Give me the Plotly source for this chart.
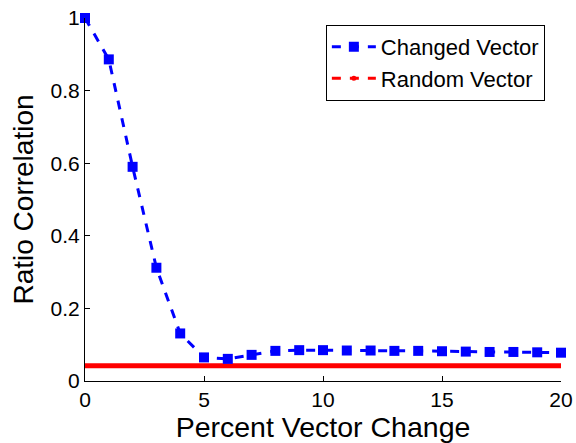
import plotly.graph_objects as go

x_vals = list(range(0, 21))
changed_vector = [1.0, 0.886, 0.590, 0.312, 0.131, 0.065, 0.061, 0.072, 0.083, 0.085, 0.085,
                  0.084, 0.084, 0.083, 0.083, 0.082, 0.081, 0.080, 0.080, 0.079, 0.078]
random_vector = [0.042] * 21

FONT = "Liberation Sans, Arial, sans-serif"

fig = go.Figure()
fig.add_trace(go.Scatter(
    x=x_vals, y=random_vector, mode="lines", name="Random Vector",
    line=dict(color="#ff0000", width=5), showlegend=False, cliponaxis=False))
fig.add_trace(go.Scatter(
    x=x_vals, y=changed_vector, mode="lines+markers", name="Changed Vector",
    line=dict(color="#0000ff", width=3, dash="dash"),
    marker=dict(symbol="square", size=10, color="#0000ff"), cliponaxis=False))
fig.add_trace(go.Scatter(
    x=[None], y=[None], mode="lines+markers", name="Random Vector",
    line=dict(color="#ff0000", width=3, dash="dash"),
    marker=dict(symbol="circle", size=5, color="#ff0000")))

fig.update_layout(
    width=576, height=443,
    margin=dict(l=85, r=15, t=18, b=62, autoexpand=False),
    paper_bgcolor="white", plot_bgcolor="white",
    font=dict(family=FONT, size=21, color="black"),
    legend=dict(x=0.506, y=0.981, xanchor="left", yanchor="top",
                bordercolor="black", borderwidth=1, bgcolor="white",
                font=dict(size=22), tracegroupgap=0, itemwidth=44),
    xaxis=dict(range=[0, 20], tickvals=[0, 5, 10, 15, 20], ticks="inside", ticklen=5,
               tickcolor="black", showline=True, linecolor="black", linewidth=1,
               showgrid=False, zeroline=False, automargin=False,
               title=dict(text="Percent Vector Change", font=dict(size=28.5), standoff=0)),
    yaxis=dict(range=[0, 1], tickvals=[0, 0.2, 0.4, 0.6, 0.8, 1],
               ticktext=["0", "0.2", "0.4", "0.6", "0.8", "1"],
               ticks="inside", ticklen=5, tickcolor="black",
               showline=True, linecolor="black", linewidth=1,
               showgrid=False, zeroline=False, automargin=False,
               title=dict(text="Ratio Correlation", font=dict(size=28), standoff=8)),
)

fig.write_html("out.html", config={"displayModeBar": False},
               post_script="document.body.style.margin='0';")
